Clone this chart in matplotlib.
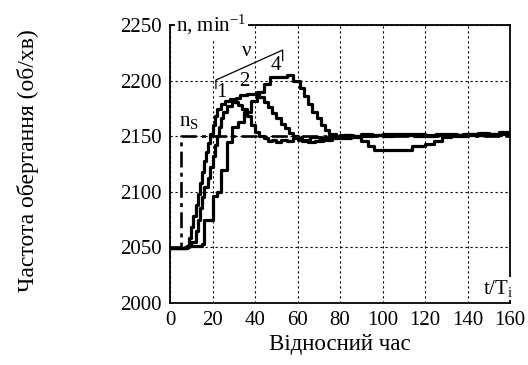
import matplotlib
matplotlib.use("Agg")
import matplotlib.pyplot as plt

plt.rcParams['font.family'] = ['Liberation Serif', 'DejaVu Serif']
plt.rcParams['mathtext.fontset'] = 'custom'
plt.rcParams['mathtext.rm'] = 'Liberation Serif'
plt.rcParams['mathtext.it'] = 'Liberation Serif'

# Data
t1 = [0, 7, 9, 10, 11, 12, 13, 14, 15, 16, 17, 18, 19, 20, 21, 22, 24, 26, 28, 30, 32, 34, 36, 38, 40, 42,
      44, 46, 48, 50, 52, 55, 58, 62, 66, 70, 75, 80, 85, 90, 95, 100, 105, 110, 115, 120, 125, 130, 135,
      140, 145, 150, 155, 158, 160]
n1 = [2049, 2050, 2058, 2068, 2078, 2088, 2098, 2108, 2118, 2128, 2136, 2144, 2152, 2160, 2168, 2174, 2179,
      2182, 2183, 2181, 2178, 2174, 2168, 2160, 2154, 2150, 2148, 2146, 2147, 2145, 2147, 2146, 2148, 2147,
      2149, 2148, 2150, 2151, 2150, 2152, 2151, 2152, 2151, 2152, 2150, 2151, 2152, 2150, 2151, 2152, 2151,
      2152, 2153, 2152, 2152]

t2 = [0, 8, 10, 12, 13, 14, 15, 16, 18, 19, 20, 21, 22, 23, 24, 25, 27, 29, 31, 33, 36, 40, 42, 44, 46, 48,
      50, 52, 54, 56, 58, 60, 62, 65, 68, 72, 76, 80, 85, 90, 95, 100, 105, 110, 115, 120, 125, 130, 135,
      140, 145, 150, 155, 160]
n2 = [2049, 2051, 2055, 2065, 2075, 2085, 2095, 2104, 2112, 2122, 2132, 2142, 2150, 2158, 2166, 2172, 2177,
      2181, 2184, 2187, 2188, 2188, 2185, 2181, 2176, 2171, 2166, 2161, 2157, 2153, 2150, 2147, 2146, 2145,
      2146, 2147, 2148, 2148, 2149, 2150, 2151, 2150, 2152, 2151, 2152, 2150, 2151, 2152, 2150, 2151, 2153,
      2151, 2152, 2152]

t4 = [0, 8, 15, 16, 20, 22, 24, 27, 29, 32, 35, 38, 41, 44, 47, 55, 58, 61, 63, 65, 67, 69, 71, 73, 75, 78,
      82, 86, 90, 93, 96, 114, 120, 124, 128, 132, 138, 144, 150, 155, 160]
n4 = [2049, 2051, 2053, 2075, 2096, 2100, 2120, 2145, 2158, 2163, 2172, 2182, 2190, 2197, 2203, 2205, 2200,
      2193, 2186, 2179, 2172, 2166, 2160, 2156, 2152, 2150, 2151, 2150, 2146, 2141, 2138, 2141, 2143, 2146,
      2149, 2151, 2152, 2151, 2152, 2154, 2154]

ts = [0, 5, 160]
ns = [2050, 2150, 2150]

xticks = [0, 20, 40, 60, 80, 100, 120, 140, 160]
yticks = [2000, 2050, 2100, 2150, 2200, 2250]

fig = plt.figure(figsize=(5.28, 3.65), dpi=100)
ax = fig.add_axes([0.322, 0.170, 0.644, 0.7615])

ax.set_xlim(0, 160)
ax.set_ylim(2000, 2250)
ax.set_xticks(xticks)
ax.set_yticks(yticks)
ax.tick_params(direction='in', length=0, labelsize=15, pad=6)
ax.grid(True, linestyle=(0, (2, 2.5)), color='black', linewidth=0.8)
for sp in ax.spines.values():
    sp.set_linewidth(1.3)

ax.step(ts, ns, where='post', color='black', linewidth=1.9, linestyle=(0, (6, 2, 1.5, 2)), zorder=3)
for t, n in [(t1, n1), (t2, n2), (t4, n4)]:
    ax.step(t, n, where='post', color='black', linewidth=2.3, zorder=4)

# nu bracket
ax.plot([21.6, 21.6, 53, 53], [2193, 2200.5, 2227.5, 2218], color='black', linewidth=0.9)
ax.text(36, 2226, 'ν', fontsize=15, ha='center', va='center')
ax.text(24, 2189, '1', fontsize=15, ha='center', va='center')
ax.text(35, 2199, '2', fontsize=15, ha='center', va='center')
ax.text(50, 2214, '4', fontsize=15, ha='center', va='center')
ax.text(9, 2163, 'n$_{\\rm S}$', fontsize=15, ha='center', va='center')

ax.text(3, 2250, 'n, min$^{-1}$', fontsize=15, ha='left', va='center',
        bbox=dict(facecolor='white', edgecolor='none', pad=1), zorder=6)
ax.text(161.5, 2013, 't/T$_{\\rm i}$', fontsize=15, ha='right', va='center',
        bbox=dict(facecolor='white', edgecolor='none', pad=1), zorder=6, clip_on=False)

ax.set_xlabel('Відносний час', fontsize=16.5, labelpad=3)
fig.text(0.053, 0.56, 'Частота обертання (об/хв)', fontsize=17, rotation=90, ha='center', va='center')

fig.savefig('out.png', dpi=100)
